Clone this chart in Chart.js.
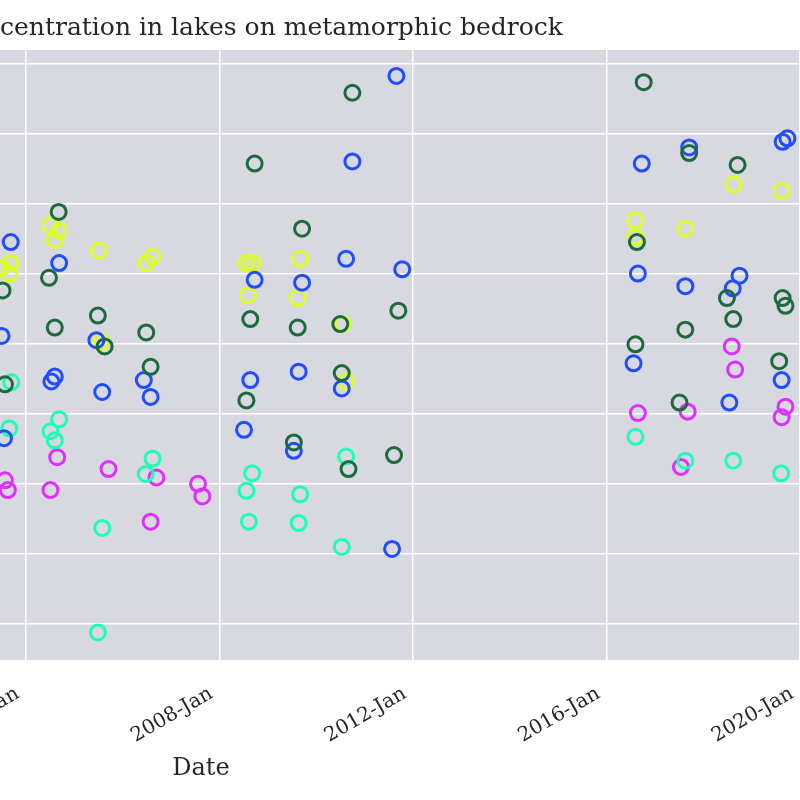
<!DOCTYPE html>
<html>
<head>
<meta charset="utf-8">
<script src="https://cdn.jsdelivr.net/npm/chart.js@4/dist/chart.umd.min.js"></script>
<style>
  html, body { margin: 0; padding: 0; background: #fff; }
  #frame { position: relative; width: 800px; height: 800px; overflow: hidden; }
  #lakeChart { position: absolute; top: 0; left: -418px; }
</style>
</head>
<body>
<div id="frame"><canvas id="lakeChart" width="1268" height="800"></canvas></div>
<script>
const chartTitle = 'centration in lakes on metamorphic bedrock';
const xAxisTitle = 'Date';
const tickYears = [2004, 2008, 2012, 2016, 2020];
const tickLabels = ['2004-Jan', '2008-Jan', '2012-Jan', '2016-Jan', '2020-Jan'];
const yGrid = [0, 1, 2, 3, 4, 5, 6, 7, 8];

// sampling dates as decimal years, concentrations in grid units
const greenX = [2004.68, 2004.48, 2003.52, 2004.60, 2005.49, 2005.63, 2006.49, 2006.58, 2003.57, 2010.75, 2008.73,
    2009.71, 2008.64, 2009.62, 2010.50, 2011.70, 2010.53, 2008.56, 2009.54, 2010.67, 2011.61, 2016.77, 2017.71,
    2018.71, 2016.63, 2018.49, 2019.64, 2019.70, 2018.62, 2017.63, 2016.60, 2019.57, 2017.51];
const greenY = [5.88, 4.94, 4.76, 4.23, 4.40, 3.96, 4.16, 3.67, 3.42, 7.58, 6.57, 5.64, 4.35, 4.23, 4.28, 4.47, 3.58,
    3.19, 2.59, 2.21, 2.41, 7.73, 6.72, 6.55, 5.45, 4.65, 4.65, 4.54, 4.35, 4.20, 3.99, 3.75, 3.16];

const blueX = [2003.69, 2004.69, 2003.50, 2005.46, 2006.44, 2006.58, 2004.60, 2004.53, 2005.58, 2003.55, 2011.66,
    2010.75, 2010.62, 2011.78, 2008.73, 2009.71, 2008.64, 2009.64, 2010.53, 2008.51, 2009.54, 2011.57, 2017.71,
    2016.73, 2019.64, 2019.74, 2016.65, 2017.63, 2018.75, 2018.61, 2016.56, 2019.62, 2018.54];
const blueY = [5.45, 5.15, 4.11, 4.05, 3.48, 3.24, 3.53, 3.46, 3.31, 2.65, 7.82, 6.60, 5.21, 5.06, 4.91, 4.87, 3.48,
    3.60, 3.36, 2.77, 2.47, 1.07, 6.80, 6.57, 6.88, 6.93, 5.00, 4.82, 4.97, 4.79, 3.72, 3.48, 3.16];

const yellowX = [2004.50, 2004.69, 2004.60, 2003.69, 2003.66, 2003.50, 2005.51, 2006.49, 2006.62, 2005.56, 2008.56,
    2008.69, 2009.67, 2008.59, 2009.62, 2010.55, 2010.62, 2018.63, 2019.62, 2016.60, 2016.60, 2017.63];
const yellowY = [5.69, 5.61, 5.48, 5.15, 5.00, 5.08, 5.33, 5.15, 5.24, 4.03, 5.15, 5.15, 5.21, 4.69, 4.65, 4.28, 3.46,
    6.27, 6.18, 5.76, 5.52, 5.64];

const cyanX = [2003.70, 2003.66, 2004.69, 2004.51, 2004.60, 2006.62, 2006.48, 2005.58, 2005.49, 2010.62, 2008.68,
    2008.56, 2009.67, 2008.61, 2009.64, 2010.53, 2016.60, 2017.63, 2018.62, 2019.61];
const cyanY = [3.45, 2.79, 2.92, 2.75, 2.62, 2.36, 2.14, 1.37, -0.12, 2.39, 2.15, 1.90, 1.85, 1.46, 1.44, 1.10, 2.67,
    2.33, 2.33, 2.15];

const magentaX = [2004.65, 2005.71, 2006.70, 2003.57, 2003.63, 2004.51, 2007.56, 2007.65, 2006.58, 2018.59, 2018.66,
    2017.68, 2019.70, 2019.62, 2016.65, 2017.54];
const magentaY = [2.38, 2.21, 2.09, 2.05, 1.91, 1.91, 2.00, 1.82, 1.46, 3.96, 3.63, 3.03, 3.10, 2.95, 3.01, 2.24];

const pairs = (xs, ys) => xs.map((x, i) => ({ x: x, y: ys[i] }));

const series = [
    { label: 'Lake 1', color: '#1d6a3c', data: pairs(greenX, greenY) },
    { label: 'Lake 2', color: '#1f4dff', data: pairs(blueX, blueY) },
    { label: 'Lake 3', color: '#dcff24', data: pairs(yellowX, yellowY) },
    { label: 'Lake 4', color: '#1cffb6', data: pairs(cyanX, cyanY) },
    { label: 'Lake 5', color: '#dd30ff', data: pairs(magentaX, magentaY) }
];

const textColor = '#262626';
const serif = 'DejaVu Serif';
// the canvas is wider than the picture: the figure is cut on its left side
const hiddenLeft = 418;

const plotBackground = {
    id: 'plotBackground',
    beforeDraw(chart) {
        const { ctx, chartArea: a } = chart;
        ctx.save();
        ctx.fillStyle = '#d7d8e0';
        ctx.fillRect(a.left, a.top, a.right - a.left, a.bottom - a.top);
        ctx.restore();
    }
};

// only the visible part of the title, starting at the picture's left edge
const cutTitle = {
    id: 'cutTitle',
    afterDraw(chart) {
        const ctx = chart.ctx;
        ctx.save();
        ctx.font = '25px "' + serif + '"';
        ctx.fillStyle = textColor;
        ctx.textAlign = 'left';
        ctx.textBaseline = 'alphabetic';
        ctx.fillText(chartTitle, hiddenLeft, 35);
        ctx.restore();
    }
};

const ctx = document.getElementById('lakeChart').getContext('2d');
new Chart(ctx, {
    type: 'scatter',
    data: {
        datasets: series.map(s => ({
            label: s.label,
            data: s.data,
            borderColor: s.color,
            backgroundColor: 'rgba(0,0,0,0)',
            pointRadius: 7.5,
            pointBorderWidth: 3,
            pointHoverRadius: 7.5
        }))
    },
    options: {
        responsive: false,
        animation: false,
        events: [],
        layout: { padding: { left: 20, top: 50, right: 50, bottom: 0 } },
        plugins: {
            legend: { display: false },
            tooltip: { enabled: false },
            title: { display: false }
        },
        scales: {
            x: {
                type: 'linear',
                min: 1995.243,
                max: 2020,
                grid: { color: '#ffffff', lineWidth: 1.5, drawTicks: false },
                border: { display: false },
                afterBuildTicks: s => { s.ticks = tickYears.map(v => ({ value: v })); },
                afterFit: s => { s.height = 140; },
                ticks: {
                    autoSkip: false,
                    minRotation: 30,
                    maxRotation: 30,
                    padding: 22,
                    labelOffset: -8,
                    color: textColor,
                    font: { family: serif, size: 20 },
                    callback: (v, i) => tickLabels[i]
                },
                title: {
                    display: true,
                    text: xAxisTitle,
                    color: textColor,
                    font: { family: serif, size: 24 },
                    padding: { top: 0, bottom: 17 }
                }
            },
            y: {
                min: -0.514,
                max: 8.19,
                grid: { color: '#ffffff', lineWidth: 1.5, drawTicks: false },
                border: { display: false },
                afterBuildTicks: s => { s.ticks = yGrid.map(v => ({ value: v })); },
                afterFit: s => { s.width = 0; },
                ticks: { display: false }
            }
        }
    },
    plugins: [plotBackground, cutTitle]
});
</script>
</body>
</html>
